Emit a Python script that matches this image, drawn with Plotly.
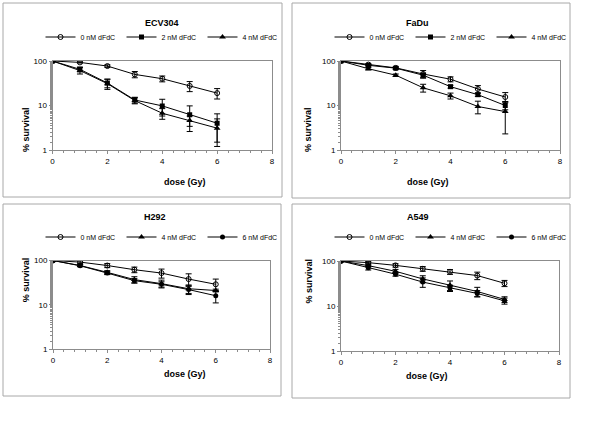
import plotly.graph_objects as go

W, H = 600, 424

dose = [0, 1, 2, 3, 4, 5, 6]

# ECV304
ecv_0 = [100, 93, 77, 50, 40, 27.5, 19]
ecv_0_err = [0, 3, 5, 8, 6, 7, 5]
ecv_2 = [100, 65, 32, 13.3, 9.8, 6.2, 4.0]
ecv_2_err = [0, 8, 7, 2, 4, 3.6, 2.5]
ecv_4 = [100, 61, 31, 12.9, 6.7, 4.6, 3.1]
ecv_4_err = [0, 10, 8, 2, 1.8, 1.2, 1.9]

# FaDu
fadu_0 = [100, 83, 70, 51, 39, 23.5, 15.5]
fadu_0_err = [0, 4, 4, 10, 5, 4.5, 4]
fadu_2 = [100, 80, 69, 48, 26.5, 17.5, 10]
fadu_2_err = [0, 4, 4, 5, 2, 1.5, 2]
fadu_4 = [100, 67, 48, 25, 16.5, 9.5, 7.3]
fadu_4_err = [0, 4, 3, 5, 2.5, 3, 5]

# H292
h292_0 = [100, 92, 77, 62, 52, 38, 29]
h292_0_err = [0, 6, 8, 9, 12, 12, 9]
h292_4 = [100, 77, 54, 37, 30, 23, 21]
h292_4_err = [0, 4, 5, 6, 6, 5, 1.5]
h292_6 = [100, 76, 52, 35, 29, 22, 16]
h292_6_err = [0, 4, 4, 4, 4, 5, 5]

# A549
a549_0 = [100, 92, 80, 67, 57.5, 47.5, 32]
a549_0_err = [0, 5, 7, 8, 7, 9, 5]
a549_4 = [100, 79, 59, 40, 29, 21, 14]
a549_4_err = [0, 5, 6, 7, 7, 5, 2]
a549_6 = [100, 71, 51, 34, 25, 19, 13]
a549_6_err = [0, 8, 5, 8, 4, 3, 2]

MARKERS = {
    'open': dict(symbol='circle-open', size=5, color='black', line=dict(width=1, color='black')),
    'square': dict(symbol='square', size=5, color='black'),
    'triangle': dict(symbol='triangle-up', size=6, color='black'),
    'dot': dict(symbol='circle', size=5, color='black'),
}

# panel: title, series, plot area (px), panel box (px), legend px
panels = [
    dict(title='ECV304', series=[('0 nM dFdC', ecv_0, ecv_0_err, 'open'),
                                 ('2 nM dFdC', ecv_2, ecv_2_err, 'square'),
                                 ('4 nM dFdC', ecv_4, ecv_4_err, 'triangle')],
         area=(52.5, 272, 61, 150), box=(3, 282, 3, 197), leg=(162, 37), ylab=19),
    dict(title='FaDu', series=[('0 nM dFdC', fadu_0, fadu_0_err, 'open'),
                               ('2 nM dFdC', fadu_2, fadu_2_err, 'square'),
                               ('4 nM dFdC', fadu_4, fadu_4_err, 'triangle')],
         area=(341, 560, 61, 150), box=(292, 570, 3, 198), leg=(451, 37), ylab=308),
    dict(title='H292', series=[('0 nM dFdC', h292_0, h292_0_err, 'open'),
                               ('4 nM dFdC', h292_4, h292_4_err, 'triangle'),
                               ('6 nM dFdC', h292_6, h292_6_err, 'dot')],
         area=(53, 270, 260.5, 349), box=(3, 281, 204, 396), leg=(162, 237), ylab=19),
    dict(title='A549', series=[('0 nM dFdC', a549_0, a549_0_err, 'open'),
                               ('4 nM dFdC', a549_4, a549_4_err, 'triangle'),
                               ('6 nM dFdC', a549_6, a549_6_err, 'dot')],
         area=(341, 559, 261, 351), box=(292, 570, 204, 398), leg=(451, 237), ylab=308),
]

FONT = 'Liberation Sans, Arial, sans-serif'
AXIS_GRAY = '#8c8c8c'

fig = go.Figure()
layout = dict(width=W, height=H, margin=dict(l=0, r=0, t=0, b=0, autoexpand=False),
              plot_bgcolor='white', paper_bgcolor='white',
              font=dict(family=FONT, size=8, color='black'),
              annotations=[], shapes=[])

for i, p in enumerate(panels):
    n = '' if i == 0 else str(i + 1)
    leg = 'legend' + n
    x0, x1, y0, y1 = p['area']
    for name, vals, err, mk in p['series']:
        fig.add_trace(go.Scatter(
            x=dose, y=vals, name=name, mode='lines+markers',
            line=dict(color='black', width=1),
            marker=MARKERS[mk],
            error_y=dict(type='data', array=err, color='black', thickness=1, width=3),
            xaxis='x' + n, yaxis='y' + n, legend=leg,
        ))
    layout['xaxis' + n] = dict(
        domain=[x0 / W, x1 / W], anchor='y' + n, range=[0, 8], dtick=2,
        showline=True, linecolor=AXIS_GRAY, linewidth=1, mirror=True,
        ticks='outside', ticklen=3, tickcolor=AXIS_GRAY,
        minor=dict(dtick=0.4, ticks='outside', ticklen=2, tickcolor=AXIS_GRAY),
        showgrid=False, zeroline=False, tickfont=dict(size=8),
    )
    layout['yaxis' + n] = dict(
        domain=[1 - y1 / H, 1 - y0 / H], anchor='x' + n, type='log', range=[0, 2],
        tickvals=[1, 10, 100], ticktext=['1', '10', '100'],
        showline=True, linecolor=AXIS_GRAY, linewidth=1, mirror=True,
        ticks='outside', ticklen=3, tickcolor=AXIS_GRAY,
        minor=dict(ticks='outside', ticklen=2, tickcolor=AXIS_GRAY),
        showgrid=False, zeroline=False, tickfont=dict(size=8),
    )
    layout[leg] = dict(
        orientation='h', x=p['leg'][0] / W, y=1 - p['leg'][1] / H,
        xanchor='center', yanchor='middle', bgcolor='rgba(0,0,0,0)',
        font=dict(size=7, color='black'), itemwidth=30, tracegroupgap=0,
        entrywidth=36, entrywidthmode='pixels',
    )
    bx0, bx1, by0, by1 = p['box']
    layout['shapes'].append(dict(type='rect', xref='paper', yref='paper',
                                 x0=bx0 / W, x1=bx1 / W, y0=1 - by1 / H, y1=1 - by0 / H,
                                 line=dict(color='#a8a8a8', width=1)))
    cx = (bx0 + bx1) / 2
    layout['annotations'] += [
        dict(text='<b>%s</b>' % p['title'], x=cx / W, y=1 - (by0 + 13) / H,
             xref='paper', yref='paper', showarrow=False, font=dict(size=9)),
        dict(text='<b>dose (Gy)</b>', x=(x0 + x1) / 2 / W, y=1 - (y1 + 32) / H,
             xref='paper', yref='paper', showarrow=False, font=dict(size=9)),
        dict(text='<b>% survival</b>', x=p['ylab'] / W, y=1 - (y0 + y1) / 2 / H,
             xref='paper', yref='paper', showarrow=False, textangle=-90,
             font=dict(size=9)),
    ]

fig.update_layout(**layout)
fig.write_html('out.html', config={'displayModeBar': False},
               post_script="document.body.style.margin='0';document.body.style.overflow='hidden';")
